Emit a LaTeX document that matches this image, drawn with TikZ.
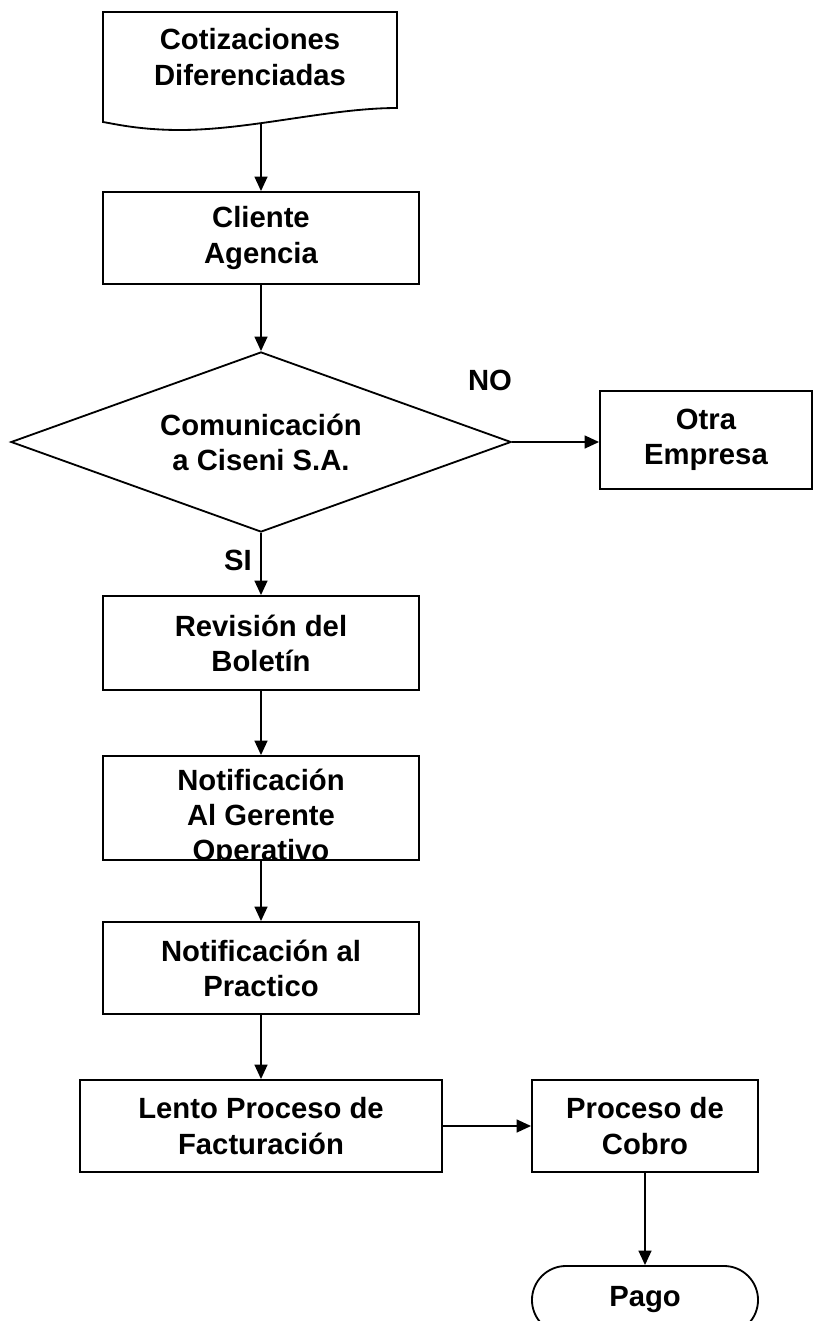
\documentclass[tikz,border=0pt]{standalone}
\usepackage{fontspec}
\setmainfont{Liberation Sans}
\usepackage{tikz}
\usetikzlibrary{positioning,shapes.geometric,arrows.meta}

\begin{document}
\begin{tikzpicture}[x=0.025cm, y=-0.025cm,
    boxtext/.style={align=center, font=\bfseries\fontsize{20.8}{25}\selectfont},
    stepbox/.style={rectangle, draw, line width=1.3pt, minimum width=7.9cm, minimum height=2.3cm, boxtext},
    decision/.style={diamond, aspect=2.78, draw, line width=1.3pt, minimum width=12.5cm, minimum height=4.5cm, inner sep=0pt, boxtext},
    terminal/.style={rectangle, draw, line width=1.3pt, rounded corners=0.85cm, minimum width=5.65cm, minimum height=1.7cm, boxtext},
    answer/.style={font=\bfseries\fontsize{20.8}{25}\selectfont},
    arrow/.style={-{Triangle[length=0.36cm, width=0.32cm]}, line width=1.3pt}]

\useasboundingbox (0,0) rectangle (817,1321);

% Document at the top
\draw[line width=1.3pt] (103,12) -- (397,12) -- (397,108)
    .. controls (330,108) and (250,130) .. (180,130)
    .. controls (140,130) and (115,124) .. (103,122) -- cycle;
\node[boxtext] (cotiz) at (250,57) {Cotizaciones\\Diferenciadas};
\coordinate (cotizbot) at (261,123);

% Main column
\node[stepbox] (cliente) at (261,238) {Cliente\\Agencia};
\node[decision] (comunic) at (261,442) {Comunicación\\a Ciseni S.A.};
\node[stepbox, minimum width=5.3cm, minimum height=2.45cm] (otra) at (706,440) {Otra\\Empresa};
\node[stepbox, minimum height=2.35cm] (revision) at (261,643) {Revisión del\\Boletín};

\node[stepbox, minimum height=2.6cm] (gerente) at (261,808) {};
\begin{scope}
\clip (gerente.north west) rectangle (gerente.south east);
\node[boxtext] (gerentetxt) at (261,818) {Notificación\\Al Gerente\\Operativo};
\end{scope}

\node[stepbox] (practico) at (261,968) {Notificación al\\Practico};
\node[stepbox, minimum width=9.05cm] (lento) at (261,1126) {Lento Proceso de\\Facturación};
\node[stepbox, minimum width=5.65cm] (cobro) at (645,1126) {Proceso de\\Cobro};
\node[terminal] (pago) at (645,1300) {Pago};

% Labels
\node[answer] (no) at (490,380) {NO};
\node[answer] (si) at (238,560) {SI};

\draw[arrow] (cotizbot) -- (cliente);
\draw[arrow] (cliente) -- (comunic);
\draw[arrow] (comunic.east) -- (comunic.east -| otra.west);
\draw[arrow] (comunic) -- (revision);
\draw[arrow] (revision) -- (gerente);
\draw[arrow] (gerente) -- (practico);
\draw[arrow] (practico) -- (lento);
\draw[arrow] (lento) -- (cobro);
\draw[arrow] (cobro) -- (pago);

\end{tikzpicture}
\end{document}
